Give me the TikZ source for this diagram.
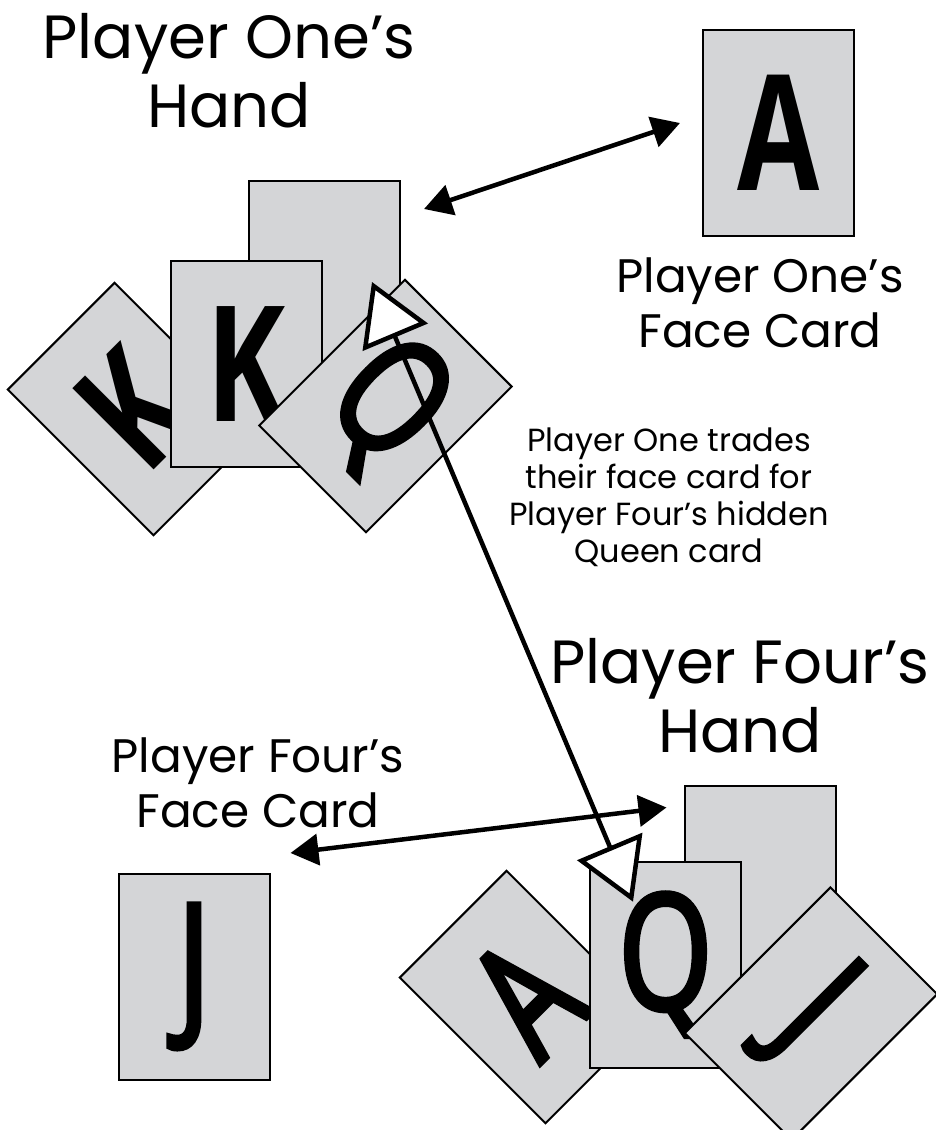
\documentclass[tikz,border=0pt]{standalone}
\usepackage{fontspec}
\setmainfont{Poppins}
\newfontfamily\cardfont[FakeStretch=0.74]{Open Sans}
\newfontfamily\cardfontmid[FakeStretch=0.74, FakeBold=3]{Open Sans}
\usetikzlibrary{arrows.meta,calc}
\definecolor{cardgray}{RGB}{212,213,215}

\tikzset{
  card/.style={draw=black, line width=2pt, fill=cardgray, minimum width=151pt,
    minimum height=206pt, inner sep=0pt, font=\cardfontmid\fontsize{161}{161}\selectfont},
  boldcard/.style={card, font=\cardfont\bfseries\fontsize{161}{161}\selectfont},
  bigtitle/.style={align=center, inner sep=0pt, anchor=north, font=\fontsize{61}{69}\selectfont},
  facetitle/.style={align=center, inner sep=0pt, anchor=north, font=\fontsize{47}{55}\selectfont},
  note/.style={align=center, inner sep=0pt, anchor=north, font=\fontsize{32}{37}\selectfont},
  swap/.style={line width=4.5pt, {Triangle[length=28pt,width=31pt]}-{Triangle[length=28pt,width=31pt]}},
  trade/.style={line width=4.5pt, {Triangle[length=60pt,width=70pt,fill=white]}-{Triangle[length=60pt,width=70pt,fill=white]}}
}

\begin{document}
\begin{tikzpicture}[x=1pt, y=-1pt]
  \useasboundingbox (0,0) rectangle (936,1130);

  % Player One
  \node[bigtitle] (p1title) at (229,13) {Player One’s\\Hand};
  \node[boldcard] (p1face) at (778.5,132.5) {A};
  \node[facetitle] (p1facetitle) at (760,258) {Player One’s\\Face Card};

  % Player One's hand
  \node[card] (p1hidden) at (324.5,283.5) {};
  \node[boldcard, rotate=45] (p1k1) at (134,409) {K};
  \node[boldcard] (p1k2) at (246,364) {K};
  \node[card, rotate=-45] (p1q) at (385.5,406) {Q};

  \node[note] (tradenote) at (669,428) {Player One trades\\their face card for\\Player Four’s hidden\\Queen card};

  % Player Four
  \node[bigtitle] (p4title) at (740,638) {Player Four’s\\Hand};
  \node[facetitle] (p4facetitle) at (258,738) {Player Four’s\\Face Card};
  \node[card] (p4face) at (194,976.5) {J};

  % Player Four's hand
  \node[card] (p4hidden) at (760,888.5) {};
  \node[card, rotate=45] (p4a) at (526,997) {A};
  \node[card] (p4q) at (665.5,964.7) {Q};
  \node[card, rotate=-45] (p4j) at (811,1013.6) {J};

  % Pfeile
  \draw[swap] ($(p1hidden.north east)+(23,29.5)$) -- ($(p1face.west)+(-22,-9.5)$);
  \draw[swap] ($(p4face.north east)+(20,-19.5)$) -- ($(p4hidden.north west)+(-17,23)$);
  \draw[trade] ($(p1q)+(-13.5,-124)$) -- ($(p4q.north)+(-32.5,41)$);
\end{tikzpicture}
\end{document}
